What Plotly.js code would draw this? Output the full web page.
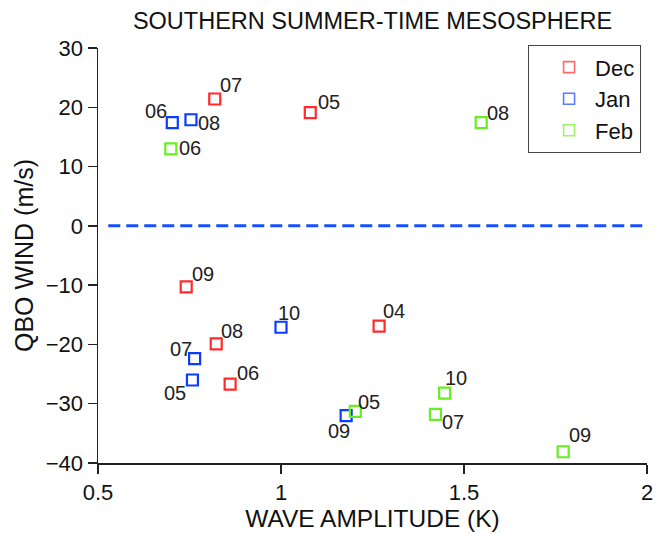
<!DOCTYPE html>
<html>
<head>
<meta charset="utf-8">
<script src="https://cdn.plot.ly/plotly-3.0.1.min.js"></script>
<style>html,body{margin:0;padding:0;background:#fff;}#chart{width:665px;height:534px;}</style>
</head>
<body>
<div id="chart"></div>
<script>
// ---- data ----
var decX = [0.819, 1.080, 0.741, 0.823, 0.861, 1.268];
var decY = [21.4, 19.1, -10.3, -19.9, -26.7, -16.9];
var decLabels = ['07', '05', '09', '08', '06', '04'];

var janX = [0.703, 0.754, 1.000, 0.764, 0.758, 1.178];
var janY = [17.4, 17.9, -17.1, -22.4, -26.0, -32.0];
var janLabels = ['06', '08', '10', '07', '05', '09'];

var febX = [0.699, 1.547, 1.203, 1.447, 1.422, 1.771];
var febY = [13.0, 17.4, -31.3, -28.2, -31.8, -38.1];
var febLabels = ['06', '08', '05', '10', '07', '09'];

var seriesNames = ['Dec', 'Jan', 'Feb'];
var xTicks = [0.5, 1, 1.5, 2];
var xTickText = ['0.5', '1', '1.5', '2'];
var yTicks = [-40, -30, -20, -10, 0, 10, 20, 30];

// ---- styles (label offsets in px: [dx, dy], dy downward) ----
var decOff = [[16,-13],[19,-10],[17,-12],[16,-12],[18,-10],[15,-14]];
var janOff = [[-16,-11],[18,4],[8,-13],[-14,-9],[-17,14],[-7,16]];
var febOff = [[19,0],[17,-9],[14,-8],[11,-14],[18,9],[17,-16]];

var colors = ['#ff2a2a', '#0a3cff', '#66ee22'];
var legendColors = ['#ff6a6a', '#5a7cff', '#99f566'];
var FONT = 'Liberation Sans, Arial, sans-serif';

var sets = [
  {x: decX, y: decY, lab: decLabels, off: decOff},
  {x: janX, y: janY, lab: janLabels, off: janOff},
  {x: febX, y: febY, lab: febLabels, off: febOff}
];

var traces = [];
var annotations = [];
sets.forEach(function (s, i) {
  traces.push({
    type: 'scatter', mode: 'markers', x: s.x, y: s.y,
    name: seriesNames[i], showlegend: false, cliponaxis: false,
    marker: {symbol: 'square-open', size: 11, color: colors[i], line: {width: 2.2, color: colors[i]}}
  });
  s.x.forEach(function (xv, j) {
    annotations.push({
      x: xv, y: s.y[j], xref: 'x', yref: 'y', text: s.lab[j], showarrow: false,
      xanchor: 'center', yanchor: 'middle',
      xshift: s.off[j][0], yshift: -s.off[j][1] + 1,
      font: {family: FONT, size: 20, color: '#222'}
    });
  });
});
sets.forEach(function (s, i) {
  traces.push({
    type: 'scatter', mode: 'markers', x: [null], y: [null],
    name: seriesNames[i], showlegend: true,
    marker: {symbol: 'square-open', size: 11, color: legendColors[i], line: {width: 1.6, color: legendColors[i]}}
  });
});

var layout = {
  width: 665, height: 534,
  margin: {l: 98, r: 18, t: 48, b: 71},
  paper_bgcolor: '#fff', plot_bgcolor: '#fff',
  font: {family: FONT, color: '#111'},
  title: {text: 'SOUTHERN SUMMER-TIME MESOSPHERE', font: {family: FONT, size: 23.5, color: '#111'},
          x: 0.5, xref: 'paper', xanchor: 'center', y: 0.962, yref: 'container', yanchor: 'middle'},
  xaxis: {
    range: [0.5, 2], tickvals: xTicks, ticktext: xTickText,
    showline: true, linecolor: '#222', linewidth: 1.5, mirror: false,
    ticks: 'outside', ticklen: 9, tickwidth: 1.5, tickcolor: '#222',
    showgrid: false, zeroline: false,
    tickfont: {family: FONT, size: 22, color: '#111'},
    title: {text: 'WAVE AMPLITUDE (K)', font: {family: FONT, size: 24.5, color: '#111'}, standoff: 3}
  },
  yaxis: {
    range: [-40, 30], tickvals: yTicks,
    showline: true, linecolor: '#222', linewidth: 1.5, mirror: false,
    ticks: 'outside', ticklen: 9, tickwidth: 1.5, tickcolor: '#222',
    showgrid: false, zeroline: false,
    tickfont: {family: FONT, size: 22, color: '#111'},
    title: {text: 'QBO WIND (m/s)', font: {family: FONT, size: 25, color: '#111'}, standoff: 5}
  },
  shapes: [{
    type: 'line', xref: 'x', yref: 'y', x0: 0.528, x1: 2, y0: 0, y1: 0,
    line: {color: '#1450ff', width: 3, dash: '12px,6px'}
  }],
  legend: {
    x: 0.783, y: 1.007, xanchor: 'left', yanchor: 'top',
    bgcolor: '#fff', bordercolor: '#444', borderwidth: 1.2,
    font: {family: FONT, size: 22, color: '#111'},
    indentation: 14, itemwidth: 42, tracegroupgap: 0
  },
  annotations: annotations
};

Plotly.newPlot('chart', traces, layout, {staticPlot: true, displayModeBar: false});
</script>
</body>
</html>
